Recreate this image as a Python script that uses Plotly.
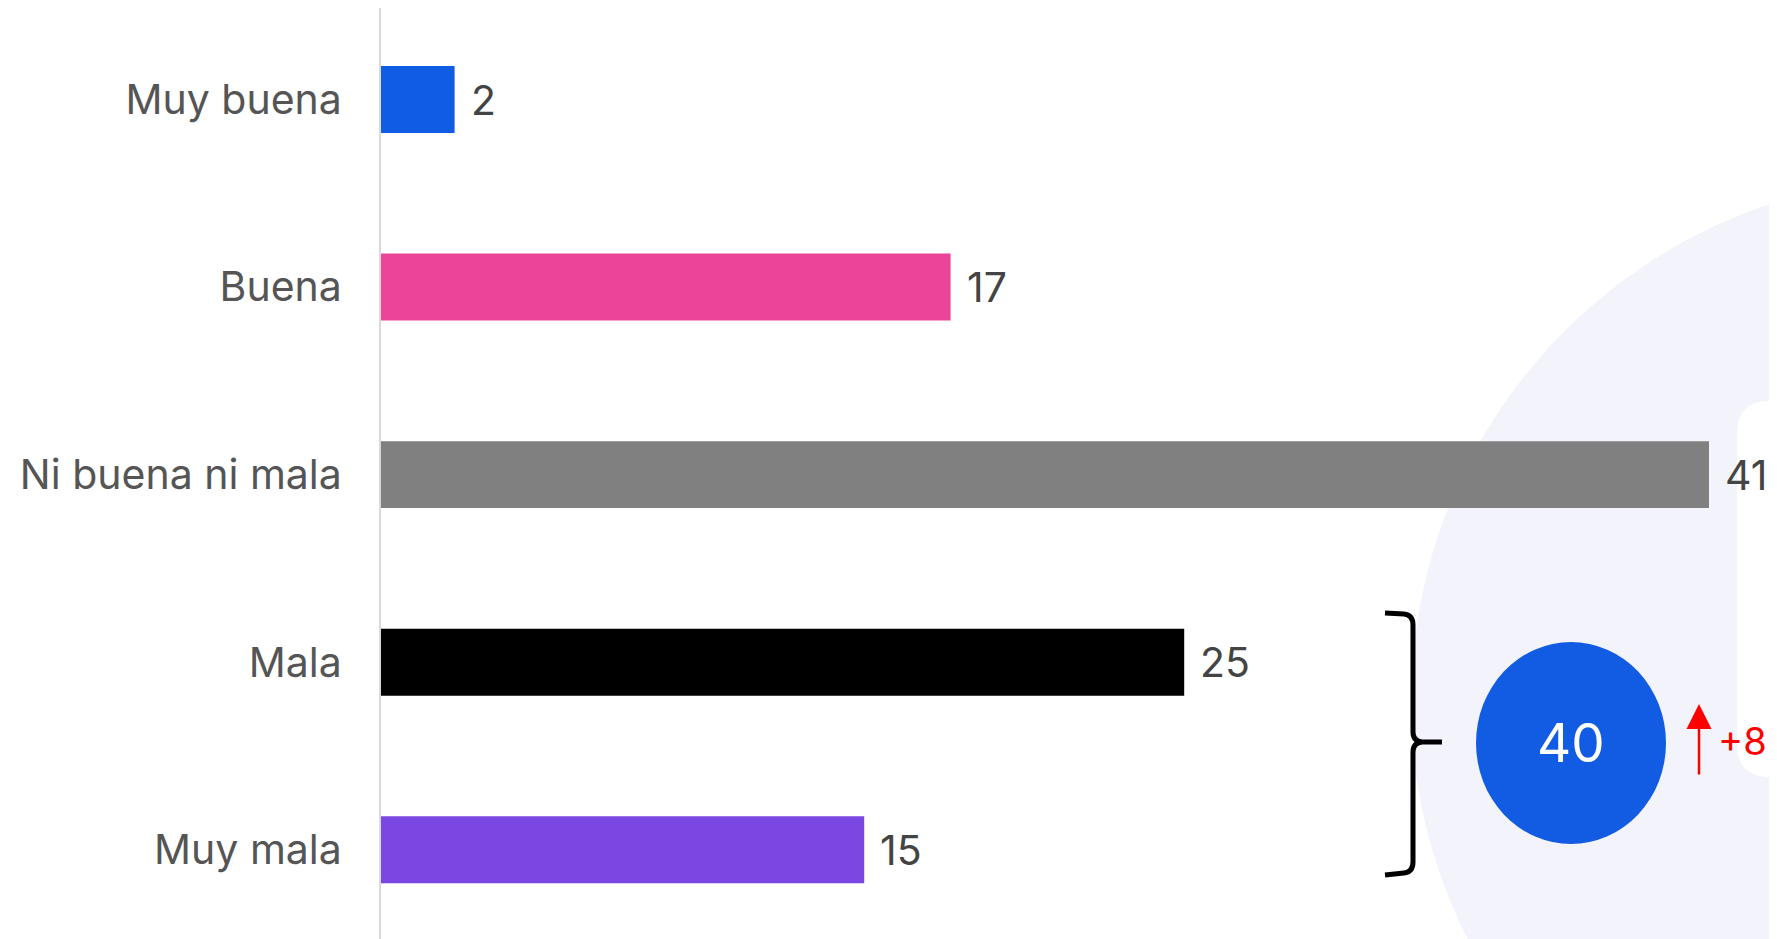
import plotly.graph_objects as go

# ---- data ----
categories = ["Muy buena", "Buena", "Ni buena ni mala", "Mala", "Muy mala"]
values = [2.3, 17.8, 41.5, 25.1, 15.1]
labels = [str(int(v)) for v in values]
colors = ["#105CE5", "#EC4497", "#808080", "#000000", "#7B47E3"]
group_total_label = "40"   # Mala + Muy mala
group_change_label = "+8"

# page body has an 8px margin; figure sized to fill the rest of the window
OFF = 8
W, H = 1777 - OFF, 939 - OFF
def fx(p):
    return (p - OFF) / W
def fy(p):
    return 1 - (p - OFF) / H

FONT = "Inter"

fig = go.Figure()
fig.add_trace(go.Bar(
    y=categories, x=values, orientation="h",
    marker=dict(color=colors, line=dict(width=0)),
    width=0.357, hoverinfo="skip",
))

annotations = []
for c, v, t in zip(categories, values, labels):
    annotations.append(dict(
        x=v, y=c, xref="x", yref="y", text=t, showarrow=False,
        xanchor="left", yanchor="middle", xshift=14,
        font=dict(family=FONT, size=41, color="#444444"),
    ))

# circle total label
annotations.append(dict(
    x=fx(1571), y=fy(743), xref="paper", yref="paper", text=group_total_label,
    showarrow=False, xanchor="center", yanchor="middle",
    font=dict(family=FONT, size=53, color="#ffffff"),
))
# red arrow
annotations.append(dict(
    x=fx(1699), y=fy(704), xref="paper", yref="paper",
    ax=0, ay=72, axref="pixel", ayref="pixel",
    text="", showarrow=True, arrowhead=2, arrowsize=2.0, arrowwidth=2.5,
    arrowcolor="#FF0000",
))
annotations.append(dict(
    x=fx(1716), y=fy(741), xref="paper", yref="paper", text=group_change_label,
    showarrow=False, xanchor="left", yanchor="middle",
    font=dict(family=FONT, size=38, color="#FF0000"),
))

# bracket path in paper coords
def P(x, y):
    return f"{fx(x):.5f},{fy(y):.5f}"
brace = (
    f"M {P(1385,613)} L {P(1404,614)} Q {P(1413,615)} {P(1413,625)} "
    f"L {P(1413,732)} Q {P(1413,741)} {P(1422,742)} L {P(1442,742)} "
    f"M {P(1422,742)} Q {P(1413,743)} {P(1413,752)} "
    f"L {P(1413,862)} Q {P(1413,872)} {P(1404,873)} L {P(1385,875)}"
)

shapes = [
    # big lavender background circle
    dict(type="circle", xref="paper", yref="paper", layer="below",
         x0=fx(1936 - 525), x1=fx(1936 + 525), y0=fy(702 + 525), y1=fy(702 - 525),
         fillcolor="#F3F4FB", line=dict(width=0)),
    # white rounded panel at right edge
    dict(type="path", xref="paper", yref="paper", layer="below",
         path=(f"M {P(1800,401)} L {P(1770,401)} Q {P(1737,401)} {P(1737,434)} "
               f"L {P(1737,744)} Q {P(1737,777)} {P(1770,777)} L {P(1800,777)} Z"),
         fillcolor="#FFFFFF", line=dict(width=0)),
    # brace
    dict(type="path", xref="paper", yref="paper", path=brace,
         line=dict(color="#000000", width=5)),
    # blue total circle
    dict(type="circle", xref="paper", yref="paper",
         x0=fx(1476), x1=fx(1666), y0=fy(844), y1=fy(642),
         fillcolor="#125BE3", line=dict(width=0)),
]

# plot area: top of y axis at page y=6 (clipped at figure top), bottom at 939
y_top_pos = -0.5 + (OFF - 5.75) / 187.5
fig.update_layout(
    width=W, height=H,
    margin=dict(l=0, r=0, t=0, b=0),
    paper_bgcolor="#ffffff", plot_bgcolor="rgba(0,0,0,0)",
    showlegend=False,
    annotations=annotations, shapes=shapes,
    xaxis=dict(domain=[fx(381), 1], range=[0, (1777 - 381) / 32.0],
               showgrid=False, zeroline=False, showticklabels=False,
               showline=False, fixedrange=True),
    yaxis=dict(domain=[0, 1], range=[4.476, y_top_pos],
               categoryorder="array", categoryarray=categories,
               showgrid=False, zeroline=False,
               showline=True, linecolor="#D9D9D9", linewidth=2,
               ticks="", ticklabelstandoff=29, automargin=False,
               tickfont=dict(family=FONT, size=41, color="#555555"),
               fixedrange=True),
)

fig.write_html("out.html")
